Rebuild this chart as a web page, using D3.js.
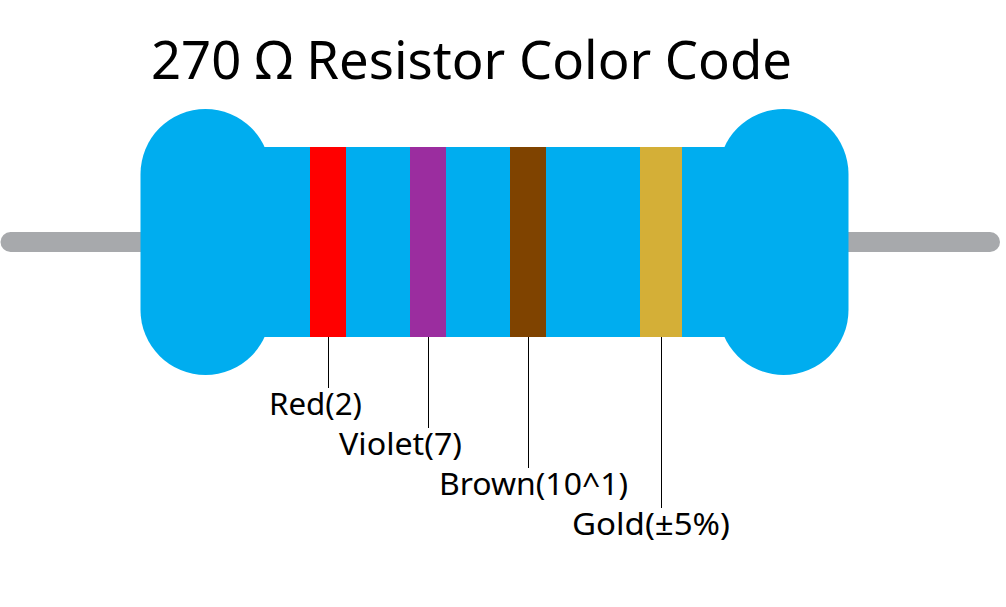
<!DOCTYPE html>
<html><head><meta charset="utf-8">
<script src="https://cdn.jsdelivr.net/npm/d3@7"></script>
<style>html,body{margin:0;background:#fff}svg{display:block}text{font-family:"Noto Sans",sans-serif;fill:#000}</style>
</head><body><div id="c"></div>
<script>
const titleText = "270 Ω Resistor Color Code";
const bandNames = ["Red", "Violet", "Brown", "Gold"];
const bandValues = ["2", "7", "10^1", "±5%"];

const W = 1006, H = 607;
const svg = d3.select("#c").append("svg").attr("width", W).attr("height", H);

const bandLeft = d3.scaleOrdinal().domain(bandNames).range([310, 410, 510, 640]);
const bandWidth = d3.scaleOrdinal().domain(bandNames).range([36, 36, 36, 42]);
const bandColor = d3.scaleOrdinal().domain(bandNames).range(["#ff0000", "#9b2d9f", "#7f4300", "#d4af37"]);
const labelBottom = d3.scaleOrdinal().domain(bandNames).range([388, 428, 468, 508]);
const labelLeft = d3.scaleOrdinal().domain(bandNames).range([269, 339, 439, 572]);
const labelWidth = d3.scaleOrdinal().domain(bandNames).range([93, 123, 189, 158]);

// lead
svg.append("rect").attr("x", 0.5).attr("y", 232).attr("width", 999.5).attr("height", 20).attr("rx", 10).attr("fill", "#a7a9ac");

// body
const body = svg.append("g").attr("fill", "#00adef");
body.append("rect").attr("x", 140.5).attr("y", 109).attr("width", 130).attr("height", 266).attr("rx", 65).attr("ry", 65);
body.append("rect").attr("x", 718.5).attr("y", 109).attr("width", 130).attr("height", 266).attr("rx", 65).attr("ry", 65);
body.append("rect").attr("x", 200).attr("y", 147).attr("width", 590).attr("height", 190);

// bands
svg.selectAll("rect.band").data(bandNames).join("rect").attr("class", "band")
  .attr("x", d => bandLeft(d)).attr("y", 147).attr("width", d => bandWidth(d)).attr("height", 190)
  .attr("fill", d => bandColor(d));

// leaders
svg.selectAll("line.lead").data(bandNames).join("line").attr("class", "lead")
  .attr("x1", d => bandLeft(d) + Math.round(bandWidth(d) / 2) + 0.5)
  .attr("x2", d => bandLeft(d) + Math.round(bandWidth(d) / 2) + 0.5)
  .attr("y1", 337).attr("y2", d => labelBottom(d))
  .attr("stroke", "#000").attr("stroke-width", 1);

// labels
svg.selectAll("text.lab").data(bandNames).join("text").attr("class", "lab")
  .attr("x", d => labelLeft(d)).attr("y", d => labelBottom(d) + 27)
  .attr("font-size", 30)
  .attr("textLength", d => labelWidth(d)).attr("lengthAdjust", "spacingAndGlyphs")
  .text((d, i) => `${d}(${bandValues[i]})`);

svg.append("text").attr("x", 151).attr("y", 79).attr("font-size", 52)
  .attr("textLength", 641).attr("lengthAdjust", "spacingAndGlyphs").text(titleText);
</script></body></html>
